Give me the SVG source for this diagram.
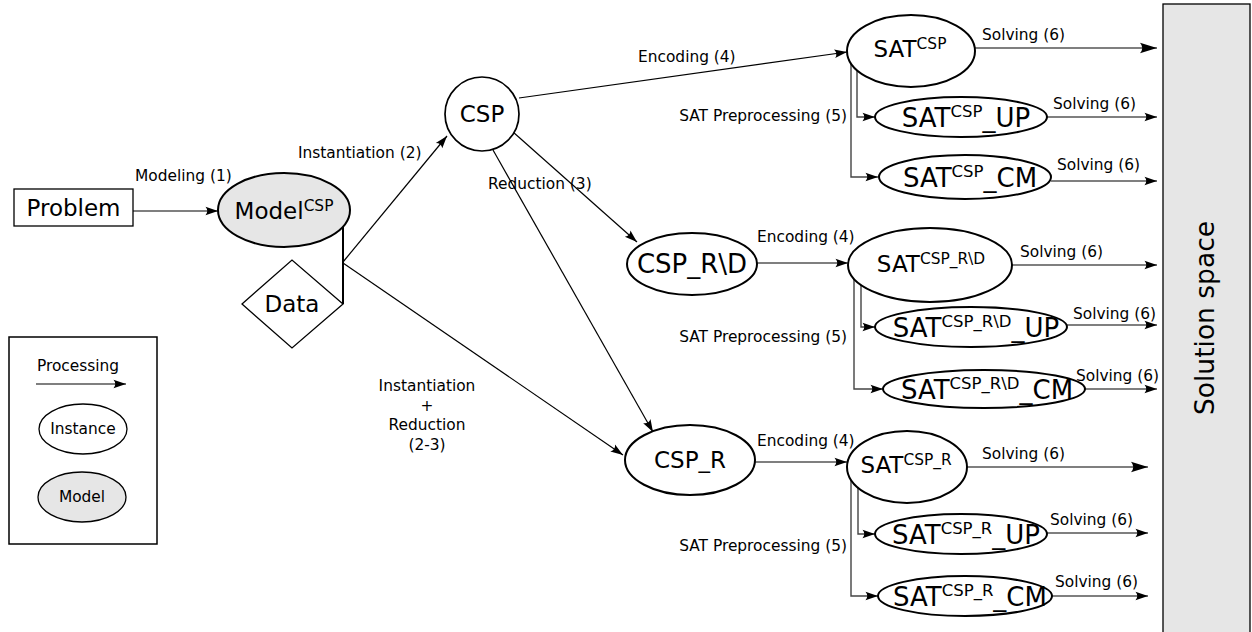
<svg xmlns="http://www.w3.org/2000/svg" width="1252" height="632" viewBox="0 0 1252 632">
  <style>
    text { font-family: "DejaVu Sans", Verdana, sans-serif; fill: #000; }
    .lbl { font-size: 15.4px; }
    .big { font-size: 23px; }
    .sup { font-size: 15.4px; }
    .sub { font-size: 26px; }
    .sup2 { font-size: 16.5px; }
    .node { fill: #fff; stroke: #000; stroke-width: 2; }
    .model { fill: #e6e6e6; stroke: #000; stroke-width: 2; }
    .thin { fill: #fff; stroke: #000; stroke-width: 1.3; }
    .edge { fill: none; stroke: #000; stroke-width: 1.2; }
    .pre { fill: none; stroke: #444; stroke-width: 1.4; }
    .mid { text-anchor: middle; }
    .end { text-anchor: end; }
  </style>
  <defs>
    <marker id="arrowL" markerUnits="userSpaceOnUse" markerWidth="20" markerHeight="12" refX="18" refY="6" orient="auto">
      <path d="M18,6 L1,0.8 Q5.5,6 1,11.2 Z" fill="#000"/>
    </marker>
    <marker id="arrowS" markerUnits="userSpaceOnUse" markerWidth="14" markerHeight="10" refX="13" refY="5" orient="auto">
      <path d="M13,5 L0.5,0.8 Q4,5 0.5,9.2 Z" fill="#000"/>
    </marker>
  </defs>

  <!-- connectors -->
  <g id="connectors">
    <line class="edge" x1="133" y1="211" x2="218" y2="211" marker-end="url(#arrowS)"/>
    <polyline points="343,227 343,304" fill="none" stroke="#000" stroke-width="2"/>
    <line class="edge" x1="343" y1="262" x2="447" y2="136" marker-end="url(#arrowS)"/>
    <line class="edge" x1="343" y1="263" x2="623" y2="455" marker-end="url(#arrowS)"/>
    <line class="edge" x1="513" y1="132" x2="637" y2="242" marker-end="url(#arrowS)"/>
    <line class="edge" x1="493" y1="150" x2="653" y2="432" marker-end="url(#arrowS)"/>

    <!-- encoding -->
    <line class="edge" x1="519" y1="98" x2="847" y2="52" marker-end="url(#arrowS)"/>
    <line class="edge" x1="757" y1="263" x2="848" y2="263" marker-end="url(#arrowS)"/>
    <line class="edge" x1="755" y1="462" x2="847" y2="462" marker-end="url(#arrowS)"/>

    <!-- SAT preprocessing -->
    <polyline class="pre" points="851,64 851,177 878,177" marker-end="url(#arrowS)"/>
    <polyline class="pre" points="857,70 857,117 875,117" marker-end="url(#arrowS)"/>
    <polyline class="pre" points="854,279 854,389 883,389" marker-end="url(#arrowS)"/>
    <polyline class="pre" points="861,285 861,327 875,327" marker-end="url(#arrowS)"/>
    <polyline class="pre" points="851,480 851,596 878,596" marker-end="url(#arrowS)"/>
    <polyline class="pre" points="858,487 858,534 875,534" marker-end="url(#arrowS)"/>

    <!-- solving -->
    <line class="edge" x1="975" y1="48" x2="1157" y2="48" marker-end="url(#arrowL)"/>
    <line class="edge" x1="1047" y1="117" x2="1157" y2="117" marker-end="url(#arrowS)"/>
    <line class="edge" x1="1051" y1="181" x2="1157" y2="181" marker-end="url(#arrowS)"/>
    <line class="edge" x1="1012" y1="265" x2="1157" y2="265" marker-end="url(#arrowS)"/>
    <line class="edge" x1="1067" y1="325" x2="1157" y2="325" marker-end="url(#arrowS)"/>
    <line class="edge" x1="1085" y1="389" x2="1157" y2="389" marker-end="url(#arrowS)"/>
    <line class="edge" x1="967" y1="467" x2="1148" y2="467" marker-end="url(#arrowL)"/>
    <line class="edge" x1="1047" y1="533" x2="1148" y2="533" marker-end="url(#arrowS)"/>
    <line class="edge" x1="1052" y1="596" x2="1148" y2="596" marker-end="url(#arrowS)"/>

    <!-- edge labels -->
    <text class="lbl" x="135" y="181">Modeling (1)</text>
    <text class="lbl" x="298" y="158">Instantiation (2)</text>
    <text class="lbl" x="488" y="189">Reduction (3)</text>
    <text class="lbl mid" x="427" y="391">Instantiation</text>
    <text class="lbl mid" x="427" y="411">+</text>
    <text class="lbl mid" x="427" y="430">Reduction</text>
    <text class="lbl mid" x="427" y="450">(2-3)</text>
    <text class="lbl" x="638" y="62">Encoding (4)</text>
    <text class="lbl" x="757" y="242">Encoding (4)</text>
    <text class="lbl" x="757" y="446">Encoding (4)</text>
    <text class="lbl end" x="847" y="121">SAT Preprocessing (5)</text>
    <text class="lbl end" x="847" y="342">SAT Preprocessing (5)</text>
    <text class="lbl end" x="847" y="551">SAT Preprocessing (5)</text>
    <text class="lbl" x="982" y="40">Solving (6)</text>
    <text class="lbl" x="1053" y="109">Solving (6)</text>
    <text class="lbl" x="1057" y="170">Solving (6)</text>
    <text class="lbl" x="1020" y="257">Solving (6)</text>
    <text class="lbl" x="1073" y="319">Solving (6)</text>
    <text class="lbl" x="1076" y="381">Solving (6)</text>
    <text class="lbl" x="982" y="459">Solving (6)</text>
    <text class="lbl" x="1050" y="525">Solving (6)</text>
    <text class="lbl" x="1055" y="587">Solving (6)</text>
  </g>

  <!-- nodes -->
  <g id="problem">
    <rect class="thin" x="14" y="189" width="119" height="37"/>
    <text class="big mid" x="73.5" y="216">Problem</text>
  </g>
  <g id="model-csp">
    <ellipse class="model" cx="284" cy="210" rx="66" ry="37"/>
    <text class="big mid" x="284" y="219">Model<tspan class="sup" dy="-8.5">CSP</tspan></text>
  </g>
  <g id="data">
    <polygon class="thin" points="242,304 292,260 343,304 292,348" stroke-width="1.2"/>
    <text class="big mid" x="292" y="312">Data</text>
  </g>
  <g id="csp">
    <circle cx="482" cy="114" r="37" fill="#fff" stroke="#000" stroke-width="1.7"/>
    <text class="big mid" x="482" y="122">CSP</text>
  </g>
  <g id="csp-rd">
    <ellipse class="node" cx="692" cy="264" rx="65" ry="31"/>
    <text class="mid" font-size="26" x="692" y="273">CSP_R\D</text>
  </g>
  <g id="csp-r">
    <ellipse class="node" cx="690" cy="460" rx="65" ry="35"/>
    <text class="big mid" x="690" y="468">CSP_R</text>
  </g>

  <g id="sat-csp">
    <ellipse class="node" cx="911" cy="51" rx="64" ry="36"/>
    <text class="big mid" x="910" y="57">SAT<tspan class="sup" dy="-8.5">CSP</tspan></text>
  </g>
  <g id="sat-csp-up">
    <ellipse class="node" cx="961" cy="117" rx="86" ry="20"/>
    <text class="sub mid" x="966" y="127">SAT<tspan class="sup2" dy="-10">CSP</tspan><tspan dy="10">_UP</tspan></text>
  </g>
  <g id="sat-csp-cm">
    <ellipse class="node" cx="965" cy="177" rx="86" ry="22"/>
    <text class="sub mid" x="970" y="187">SAT<tspan class="sup2" dy="-10">CSP</tspan><tspan dy="10">_CM</tspan></text>
  </g>

  <g id="sat-csp-rd">
    <ellipse class="node" cx="930" cy="265" rx="82" ry="37"/>
    <text class="big mid" x="931" y="272">SAT<tspan class="sup" dy="-8.5">CSP_R\D</tspan></text>
  </g>
  <g id="sat-csp-rd-up">
    <ellipse class="node" cx="971" cy="327" rx="96" ry="20"/>
    <text class="sub mid" x="976" y="337">SAT<tspan class="sup2" dy="-10">CSP_R\D</tspan><tspan dy="10">_UP</tspan></text>
  </g>
  <g id="sat-csp-rd-cm">
    <ellipse class="node" cx="984" cy="389" rx="101" ry="19"/>
    <text class="sub mid" x="987" y="399">SAT<tspan class="sup2" dy="-10">CSP_R\D</tspan><tspan dy="10">_CM</tspan></text>
  </g>

  <g id="sat-csp-r">
    <ellipse class="node" cx="907" cy="467" rx="60" ry="36"/>
    <text class="big mid" x="906" y="473">SAT<tspan class="sup" dy="-8.5">CSP_R</tspan></text>
  </g>
  <g id="sat-csp-r-up">
    <ellipse class="node" cx="961" cy="534" rx="86" ry="20"/>
    <text class="sub mid" x="966" y="544">SAT<tspan class="sup2" dy="-10">CSP_R</tspan><tspan dy="10">_UP</tspan></text>
  </g>
  <g id="sat-csp-r-cm">
    <ellipse class="node" cx="965" cy="596" rx="87" ry="20"/>
    <text class="sub mid" x="970" y="606">SAT<tspan class="sup2" dy="-10">CSP_R</tspan><tspan dy="10">_CM</tspan></text>
  </g>

  <g id="solution-space">
    <rect x="1163" y="4" width="87" height="640" fill="#e6e6e6" stroke="#000" stroke-width="1.3"/>
    <text class="mid" font-size="26.5" transform="translate(1214,318) rotate(-90)">Solution space</text>
  </g>

  <!-- key -->
  <g id="legend">
    <rect x="9" y="337" width="148" height="207" fill="#fff" stroke="#000" stroke-width="1.5"/>
    <text class="lbl mid" x="78" y="371">Processing</text>
    <line class="edge" x1="36" y1="384" x2="126" y2="384" marker-end="url(#arrowS)"/>
    <ellipse cx="83" cy="429" rx="44" ry="25" fill="#fff" stroke="#000" stroke-width="1.3"/>
    <text class="lbl mid" x="83" y="434">Instance</text>
    <ellipse cx="82" cy="497" rx="44" ry="25" fill="#e6e6e6" stroke="#000" stroke-width="1.3"/>
    <text class="lbl mid" x="82" y="502">Model</text>
  </g>
</svg>
